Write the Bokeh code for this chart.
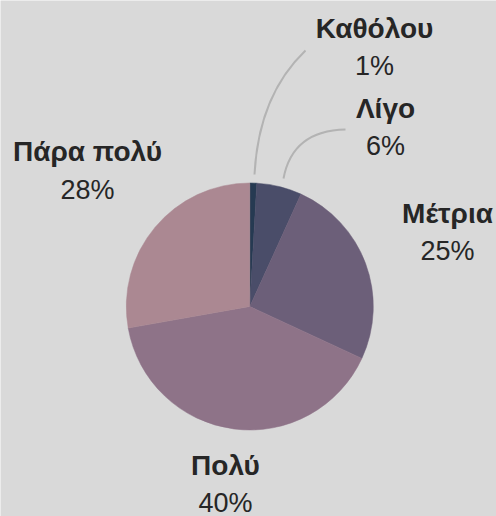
import math
from bokeh.plotting import figure
from bokeh.models import Range1d, ColumnDataSource
from bokeh.core.properties import value
from bokeh.embed import file_html
from bokeh.resources import INLINE

# ---- data ----
categories = ["Καθόλου", "Λίγο", "Μέτρια", "Πολύ", "Πάρα πολύ"]
shares = [0.9, 5.9, 25.1, 40.3, 27.8]
colors = ["#263a52", "#4a4d69", "#6c5f79", "#8e7388", "#ab8892"]

# ---- layout (image pixel coordinates, y down) ----
W, H = 496, 516
CX, CY, R = 249.3, 306.0, 123.5
BG = "#d9d9d9"
# label anchor: (x, baseline of bold line) in image px
label_pos = {
    "Καθόλου": (374, 37),
    "Λίγο": (385, 117),
    "Μέτρια": (447, 222),
    "Πολύ": (225, 474),
    "Πάρα πολύ": (87, 160.5),
}
LINE_GAP = 38
BASE_SHIFT = -9.5
FS_B = "28px"
FS_P = "27px"

def Y(yimg):
    return H - yimg

p = figure(width=W, height=H, output_backend="svg", toolbar_location=None,
           x_range=Range1d(0, W), y_range=Range1d(0, H),
           min_border=0, background_fill_color=BG, border_fill_color=BG,
           outline_line_color=None)
p.axis.visible = False
p.grid.visible = False

total = sum(shares)
starts, ends = [], []
cum = 0.0
for s in shares:
    a0 = cum / total
    cum += s
    a1 = cum / total
    # clockwise from 12 o'clock
    starts.append(math.pi / 2 - a1 * 2 * math.pi)
    ends.append(math.pi / 2 - a0 * 2 * math.pi)

src = ColumnDataSource(dict(start=starts, end=ends, color=colors, cat=categories))
p.wedge(x=CX, y=Y(CY), radius=R, start_angle="start", end_angle="end",
        fill_color="color", line_color="color", line_width=0.5, source=src)

# leader lines for the two small slices
p.quadratic(x0=[254.0, 283.0], y0=[Y(174), Y(178)],
            x1=[305.0, 345.0], y1=[Y(50), Y(129)],
            cx=[258.0, 292.0], cy=[Y(95), Y(130)],
            line_color="#b3b3b3", line_width=2)

lx, ly_b, ly_p, names, pcts = [], [], [], [], []
for c, s in zip(categories, shares):
    x, yb = label_pos[c]
    yb += BASE_SHIFT
    lx.append(x)
    ly_b.append(Y(yb))
    ly_p.append(Y(yb + LINE_GAP))
    names.append(c)
    pcts.append(f"{round(s / total * 100)}%")

p.text(x=lx, y=ly_b, text=names, text_align="center", text_baseline="alphabetic",
       text_font=value("Liberation Sans"), text_font_style="bold",
       text_font_size=FS_B, text_color="#262626")
p.text(x=lx, y=ly_p, text=pcts, text_align="center", text_baseline="alphabetic",
       text_font=value("Liberation Sans"), text_font_size=FS_P,
       text_color="#262626")

html = file_html(p, INLINE)
html = html.replace("<body>", '<body style="background-color:%s;">' % BG, 1)
open("out.html", "w").write(html)
